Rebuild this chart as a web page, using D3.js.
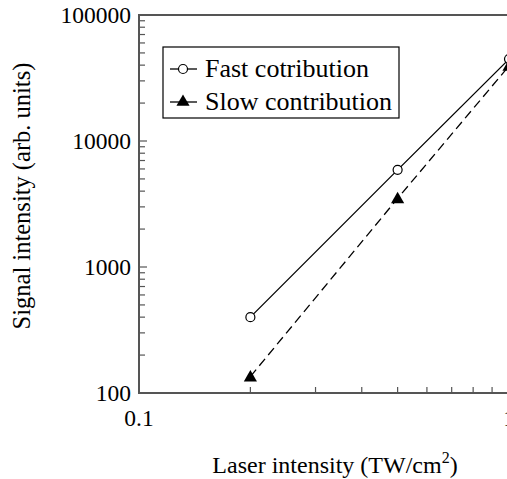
<!DOCTYPE html>
<html>
<head>
<meta charset="utf-8">
<script src="https://cdn.jsdelivr.net/npm/d3@7"></script>
<style>
  html, body { margin: 0; padding: 0; background: #fff; overflow: hidden; }
</style>
</head>
<body>
<svg id="chart"></svg>
<script>
const laser = [0.2, 0.5, 1.0]
const fastSignal = [400, 5900, 44700]
const slowSignal = [135, 3500, 39400]
const yTicks = [100, 1000, 10000, 100000]
const xTicks = [0.1, 1]

const width = 507, height = 479
const margin = { left: 139, top: 15, right: -2, bottom: 86 }
const serif = "'Liberation Serif', 'Times New Roman', Times, serif"

const svg = d3.select('#chart').attr('width', width).attr('height', height)
  .attr('font-family', serif)

const x = d3.scaleLog().domain([0.1, 1]).range([margin.left, width - margin.right])
const y = d3.scaleLog().domain([100, 100000]).range([height - margin.bottom, margin.top])

const axisColor = '#555'

// frame
svg.append('rect')
  .attr('x', x(0.1)).attr('y', y(100000))
  .attr('width', x(1) - x(0.1)).attr('height', y(100) - y(100000))
  .attr('fill', 'none').attr('stroke', axisColor).attr('stroke-width', 2)

// y minor/major ticks (inside)
const yMinor = []
for (let d = 100; d < 100000; d *= 10) for (let k = 1; k < 10; k++) yMinor.push(d * k)
yMinor.push(100000)
svg.append('g').selectAll('line').data(yMinor).join('line')
  .attr('x1', x(0.1)).attr('x2', d => x(0.1) + (yTicks.includes(d) ? 8 : 6))
  .attr('y1', d => y(d)).attr('y2', d => y(d))
  .attr('stroke', axisColor).attr('stroke-width', 1.2)

const xMinor = d3.range(2, 10).map(k => k / 10)
svg.append('g').selectAll('line').data(xMinor).join('line')
  .attr('x1', d => x(d)).attr('x2', d => x(d))
  .attr('y1', y(100)).attr('y2', y(100) - 6)
  .attr('stroke', axisColor).attr('stroke-width', 1.2)

svg.append('g').selectAll('text').data(yTicks).join('text')
  .attr('x', x(0.1) - 8).attr('y', d => y(d) + 8)
  .attr('text-anchor', 'end').attr('font-size', 23.5)
  .text(d => d)

svg.append('g').selectAll('text').data(xTicks).join('text')
  .attr('x', d => x(d)).attr('y', y(100) + 33)
  .attr('text-anchor', 'middle').attr('font-size', 23.5)
  .text(d => d)

// axis titles
svg.append('text')
  .attr('transform', `translate(30,196) rotate(-90)`)
  .attr('text-anchor', 'middle').attr('font-size', 24.5)
  .text('Signal intensity (arb. units)')

const xl = svg.append('text')
  .attr('x', 335).attr('y', 473)
  .attr('text-anchor', 'middle').attr('font-size', 24)
xl.append('tspan').text('Laser intensity (TW/cm')
xl.append('tspan').attr('dy', -10).attr('font-size', 16).text('2')
xl.append('tspan').attr('dy', 10).text(')')

// lines
const line = d3.line().x(d => x(d[0])).y(d => y(d[1]))
const fastPts = laser.map((v, i) => [v, fastSignal[i]])
const slowPts = laser.map((v, i) => [v, slowSignal[i]])

svg.append('path').datum(fastPts).attr('d', line)
  .attr('fill', 'none').attr('stroke', '#000').attr('stroke-width', 1.3)
svg.append('path').datum(slowPts).attr('d', line)
  .attr('fill', 'none').attr('stroke', '#000').attr('stroke-width', 1.3)
  .attr('stroke-dasharray', '9,5')

const tri = d3.symbol().type(d3.symbolTriangle).size(75)

svg.append('g').selectAll('circle').data(fastPts).join('circle')
  .attr('cx', d => x(d[0])).attr('cy', d => y(d[1])).attr('r', 4.5)
  .attr('fill', '#fff').attr('stroke', '#000').attr('stroke-width', 1.2)
svg.append('g').selectAll('path').data(slowPts).join('path')
  .attr('d', tri).attr('transform', d => `translate(${x(d[0])},${y(d[1]) + 1})`)
  .attr('fill', '#000')

// legend
const lg = svg.append('g')
lg.append('rect').attr('x', 163).attr('y', 47).attr('width', 236).attr('height', 71)
  .attr('fill', '#fff').attr('stroke', '#000').attr('stroke-width', 1.2)
const rows = [
  { label: 'Fast cotribution', cy: 69, kind: 'circle' },
  { label: 'Slow contribution', cy: 102, kind: 'tri' }
]
rows.forEach(r => {
  lg.append('line').attr('x1', 170).attr('x2', 197).attr('y1', r.cy).attr('y2', r.cy)
    .attr('stroke', '#000').attr('stroke-width', 1.3)
  if (r.kind === 'circle') {
    lg.append('circle').attr('cx', 183).attr('cy', r.cy).attr('r', 4.5)
      .attr('fill', '#fff').attr('stroke', '#000').attr('stroke-width', 1.2)
  } else {
    lg.append('path').attr('d', tri).attr('transform', `translate(183,${r.cy})`).attr('fill', '#000')
  }
  lg.append('text').attr('x', 205).attr('y', r.cy + 8).attr('font-size', 26).text(r.label)
})
</script>
</body>
</html>
